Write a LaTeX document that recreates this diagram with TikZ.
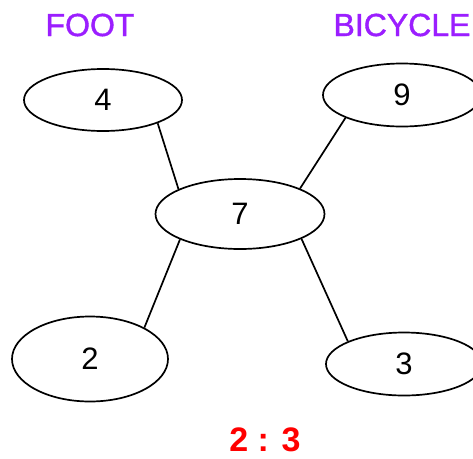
\documentclass[tikz,border=0pt]{standalone}
\usepackage{fontspec}
\setmainfont{Liberation Sans}
\newfontfamily\lblfont[FakeBold=1.2]{Liberation Sans}
\usetikzlibrary{shapes.geometric}
\definecolor{lblpurple}{RGB}{155,30,255}
\begin{document}
\begin{tikzpicture}[x=1pt,y=-1pt,
  oval/.style={ellipse,draw,line width=1.7pt,inner sep=0pt,font=\fontsize{31}{32}\selectfont},
  conn/.style={line width=1.7pt},
  lbl/.style={text=lblpurple,font=\lblfont\fontsize{32}{34}\selectfont,inner sep=0pt},
  ratio/.style={text=red,font=\bfseries\fontsize{34}{36}\selectfont,inner sep=0pt}]
\useasboundingbox (0,0) rectangle (473,458);
\node[lbl] (foot) at (90,25) {FOOT};
\node[lbl] (bike) at (402,25) {BICYCLE};
\node[oval,minimum width=158pt,minimum height=62pt] (n4) at (103,100) {4};
\node[oval,minimum width=158pt,minimum height=63pt] (n9) at (402,95) {9};
\node[oval,minimum width=169pt,minimum height=70pt] (n7) at (240,214) {7};
\node[oval,minimum width=156pt,minimum height=85pt] (n2) at (90,359) {2};
\node[oval,minimum width=156pt,minimum height=63pt] (n3) at (404,364) {3};
\node[ratio] (r) at (265,440) {2 : 3};
\draw[conn] (n4.-23) -- (n7.158);
\draw[conn] (n9.-158) -- (n7.23);
\draw[conn] (n7.-157) -- (n2.30);
\draw[conn] (n7.-22) -- (n3.158);
\end{tikzpicture}
\end{document}
